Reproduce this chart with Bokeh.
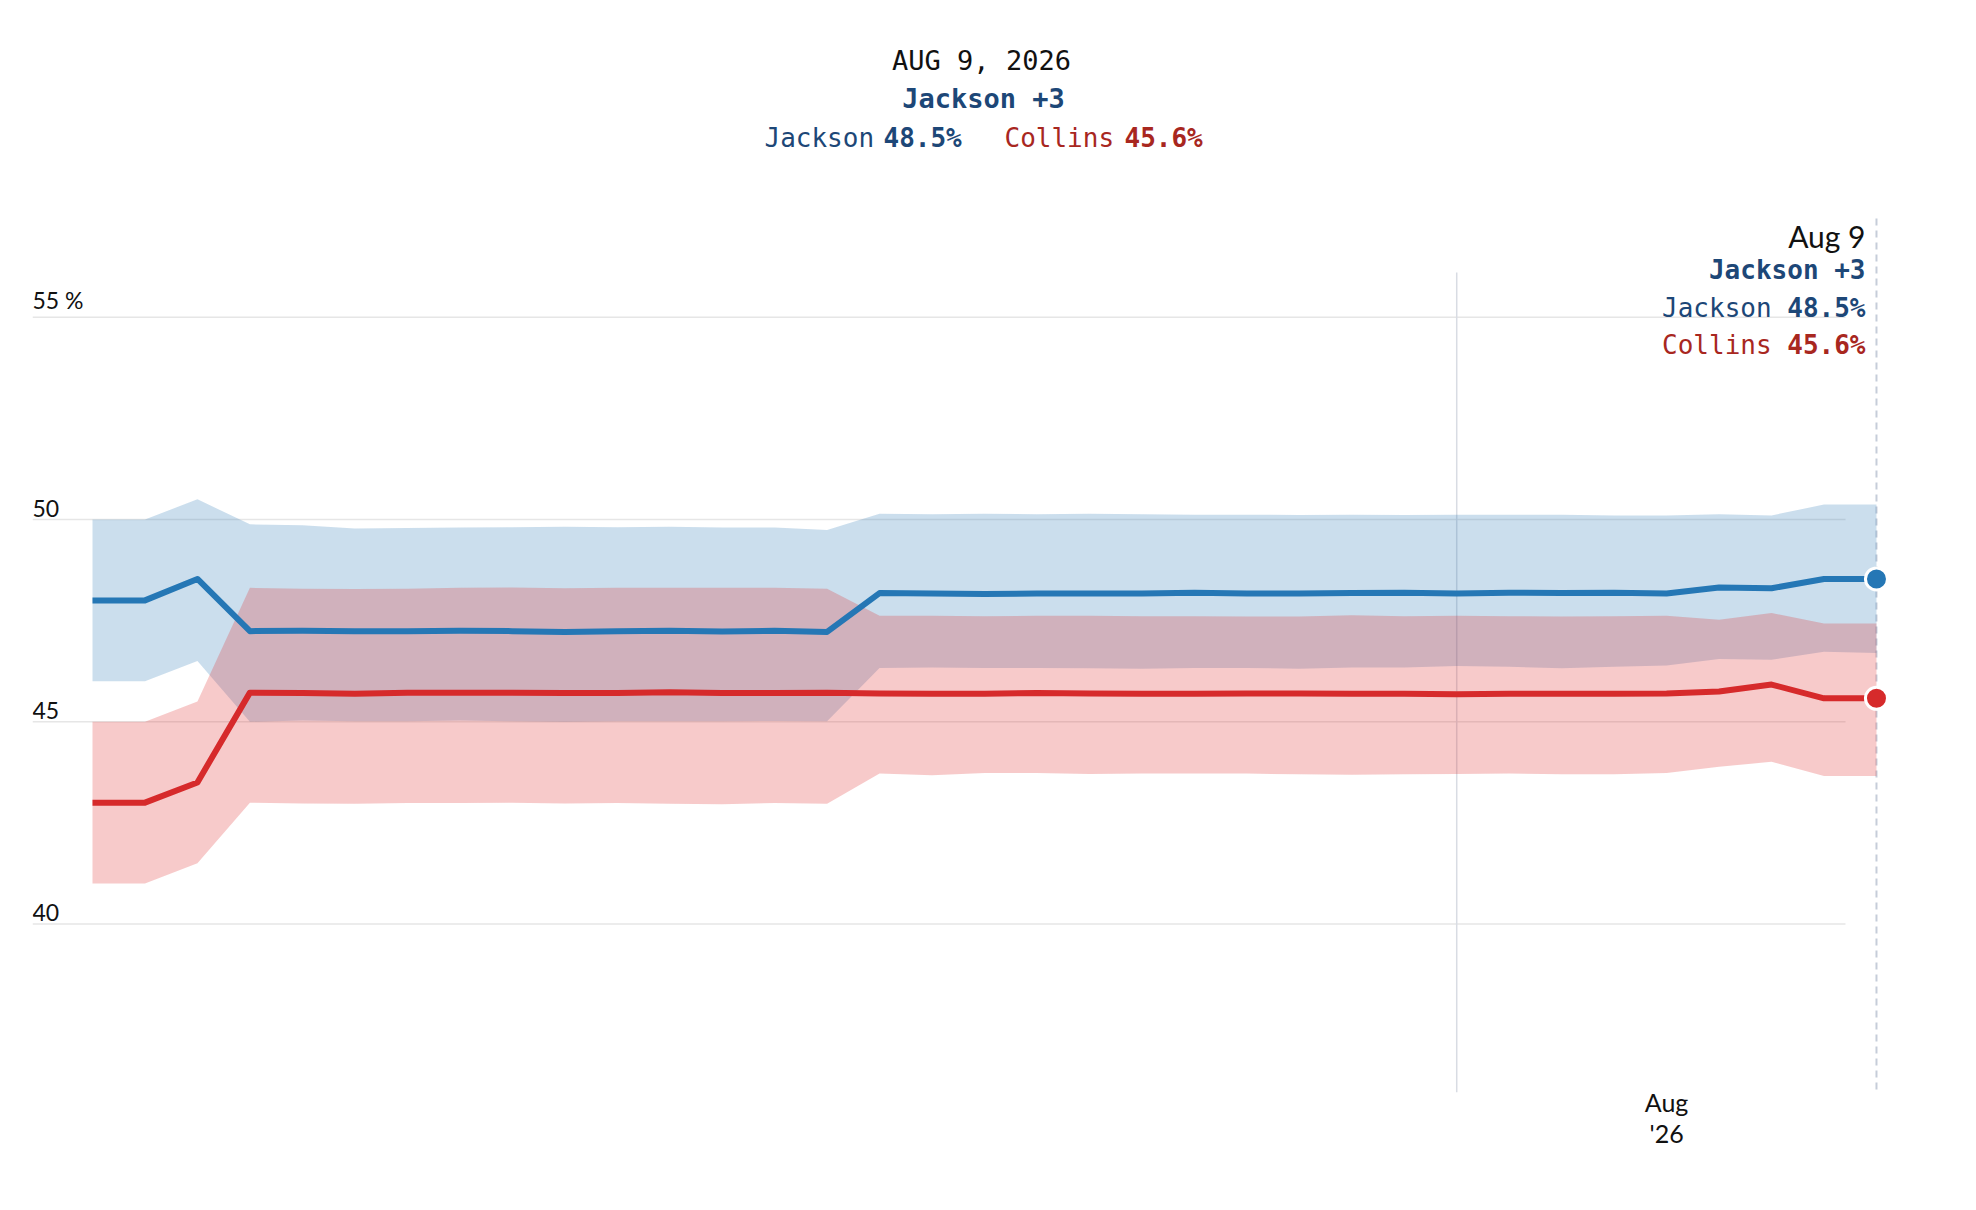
import pandas as pd
from bokeh.plotting import figure
from bokeh.models import Range1d, FixedTicker, DatetimeTickFormatter, Label, ColumnDataSource
from bokeh.core.properties import value
from bokeh.embed import file_html
from bokeh.resources import INLINE

# ---------------- data ----------------
start_date = "2026-06-02"
n_points = 35
dates = pd.date_range(start_date, periods=n_points, freq="2D")

jackson = [48.0, 48.0, 48.53, 47.24, 47.25, 47.24, 47.24, 47.25, 47.24, 47.22,
           47.24, 47.25, 47.23, 47.25, 47.22, 48.18, 48.17, 48.16, 48.17, 48.17,
           48.17, 48.19, 48.17, 48.17, 48.18, 48.19, 48.17, 48.19, 48.18, 48.19,
           48.17, 48.32, 48.30, 48.53, 48.53]
jackson_hi = [50.0, 50.0, 50.5, 49.88, 49.86, 49.78, 49.79, 49.80, 49.81, 49.82,
              49.81, 49.82, 49.80, 49.80, 49.74, 50.14, 50.13, 50.14, 50.13, 50.14,
              50.13, 50.12, 50.12, 50.11, 50.12, 50.11, 50.12, 50.12, 50.12, 50.10,
              50.10, 50.13, 50.10, 50.37, 50.37]
jackson_lo = [46.0, 46.0, 46.5, 45.0, 45.03, 45.01, 45.01, 45.03, 45.01, 45.0,
              45.01, 45.01, 45.01, 45.02, 45.01, 46.33, 46.34, 46.33, 46.33, 46.32,
              46.31, 46.33, 46.33, 46.31, 46.34, 46.34, 46.38, 46.36, 46.32, 46.36,
              46.39, 46.55, 46.53, 46.73, 46.70]
collins = [43.0, 43.0, 43.5, 45.72, 45.71, 45.69, 45.72, 45.72, 45.72, 45.71,
           45.71, 45.73, 45.71, 45.71, 45.72, 45.70, 45.69, 45.69, 45.71, 45.70,
           45.69, 45.69, 45.70, 45.70, 45.69, 45.69, 45.68, 45.69, 45.69, 45.69,
           45.70, 45.75, 45.92, 45.58, 45.58]
collins_hi = [45.0, 45.0, 45.5, 48.31, 48.29, 48.28, 48.29, 48.31, 48.32, 48.30,
              48.31, 48.31, 48.31, 48.31, 48.29, 47.62, 47.62, 47.61, 47.62, 47.62,
              47.61, 47.61, 47.60, 47.60, 47.63, 47.61, 47.62, 47.61, 47.60, 47.61,
              47.62, 47.52, 47.69, 47.43, 47.43]
collins_lo = [41.0, 41.0, 41.5, 43.0, 42.98, 42.97, 42.99, 42.99, 43.0, 42.98,
              42.99, 42.97, 42.96, 42.99, 42.97, 43.72, 43.68, 43.73, 43.73, 43.71,
              43.72, 43.72, 43.72, 43.70, 43.69, 43.70, 43.71, 43.72, 43.70, 43.70,
              43.73, 43.89, 44.01, 43.66, 43.66]

y_ticks = [40, 45, 50, 55]
y_tick_labels = ["40", "45", "50", "55 %"]
x_tick_date = "2026-08-01"
x_tick_label = "%b\n'%y"
marker_index = 26

title_date = "AUG 9, 2026"
lead_text = "Jackson +3"
cand_a, cand_a_val = "Jackson", "48.5%"
cand_b, cand_b_val = "Collins", "45.6%"
hover_date = "Aug 9"

# ---------------- styling / geometry ----------------
BLUE = "#2577b5"
RED = "#d62a2b"
BLUE_TXT = "#1d4777"
RED_TXT = "#a8271f"
MONO = "DejaVu Sans Mono"
SANS = "Lato"

FRAME_L, FRAME_R, FRAME_T, FRAME_B = 32, 1900, 8, 1092
X0_PX, PX_PER_DAY = 92, 26.235
Y50_PX, PX_PER_UNIT = 519, 40.45
DAY = 86400000.0

x0 = dates[0].value / 1e6
x_start = x0 - (X0_PX - FRAME_L) / PX_PER_DAY * DAY
x_end = x0 + (FRAME_R - X0_PX) / PX_PER_DAY * DAY
y_top = 50 + (Y50_PX - FRAME_T) / PX_PER_UNIT
y_bot = 50 - (FRAME_B - Y50_PX) / PX_PER_UNIT


def X(px):
    return x_start + (px - FRAME_L) / PX_PER_DAY * DAY


def Y(py):
    return y_top - (py - FRAME_T) / PX_PER_UNIT


p = figure(width=FRAME_R + 16, height=FRAME_B + 80,
           x_axis_type="datetime", y_axis_location=None,
           x_range=Range1d(x_start, x_end), y_range=Range1d(y_bot, y_top),
           min_border_left=FRAME_L, min_border_right=16, min_border_top=FRAME_T,
           min_border_bottom=80,
           output_backend="svg", toolbar_location=None, title=None)
p.outline_line_color = None
p.xgrid.visible = False
p.ygrid.visible = False

# x axis
p.xaxis.ticker = FixedTicker(ticks=[pd.Timestamp(x_tick_date).value / 1e6])
p.xaxis.formatter = DatetimeTickFormatter(
    milliseconds=x_tick_label, seconds=x_tick_label, minsec=x_tick_label, minutes=x_tick_label,
    hourmin=x_tick_label, hours=x_tick_label, days=x_tick_label, months=x_tick_label,
    years=x_tick_label)
p.xaxis.axis_line_color = None
p.xaxis.major_tick_line_color = None
p.xaxis.minor_tick_line_color = None
p.xaxis.major_tick_in = 0
p.xaxis.major_tick_out = 0
p.xaxis.major_label_standoff = -6
p.xaxis.major_label_text_font = SANS
p.xaxis.major_label_text_font_size = "25px"
p.xaxis.major_label_text_line_height = 1.05
p.xaxis.major_label_text_color = "#111111"

# gridlines (drawn under the bands)
grid_end = X(1845)
p.segment(x0=[x_start] * len(y_ticks), x1=[grid_end] * len(y_ticks), y0=y_ticks, y1=y_ticks,
          line_color="#e6e6e6", line_width=1.5)
p.text(x=[x_start] * len(y_ticks), y=y_ticks, text=y_tick_labels, text_baseline="bottom",
       text_align="left", y_offset=-3, text_font=value(SANS), text_font_size="23px",
       text_color="#111111")

# vertical reference lines
mx = dates[marker_index]
p.segment(x0=[mx], x1=[mx], y0=[Y(272)], y1=[y_bot], line_color="#d8dce3", line_width=1.5)
p.segment(x0=[dates[-1]], x1=[dates[-1]], y0=[Y(218)], y1=[y_bot], line_color="#c6cdd9",
          line_width=2, line_dash="7 5")

src = ColumnDataSource(dict(x=dates, j=jackson, jh=jackson_hi, jl=jackson_lo,
                            c=collins, ch=collins_hi, cl=collins_lo))

p.varea(x="x", y1="jl", y2="jh", source=src, fill_color=BLUE, fill_alpha=0.24)
p.varea(x="x", y1="cl", y2="ch", source=src, fill_color="#df2b2b", fill_alpha=0.25)
p.line(x="x", y="j", source=src, line_color=BLUE, line_width=6, line_join="round")
p.line(x="x", y="c", source=src, line_color=RED, line_width=6, line_join="round")
p.scatter(x=[dates[-1], dates[-1]], y=[jackson[-1], collins[-1]], size=22,
          fill_color=[BLUE, RED], line_color="white", line_width=3)


def lab(text, px, py, color, align="left", bold=False, font=MONO, size="26px"):
    p.add_layout(Label(x=X(px), y=Y(py), text=text, text_align=align, text_baseline="middle",
                       text_font=font, text_font_size=size, text_color=color,
                       text_font_style="bold" if bold else "normal"))


# header
lab(title_date, 981, 60, "#111111", align="center", size="27px")
lab(lead_text, 983, 98, BLUE_TXT, align="center", bold=True, size="27px")
lab(cand_a, 764, 137, BLUE_TXT)
lab(cand_a_val, 883, 137, BLUE_TXT, bold=True)
lab(cand_b, 1004, 137, RED_TXT)
lab(cand_b_val, 1124, 137, RED_TXT, bold=True)

# right-hand annotation
RX = 1865
CW = 15.65
lab(hover_date, RX, 235, "#111111", align="right", font=SANS, size="30px")
lab(lead_text, RX, 269, BLUE_TXT, align="right", bold=True)
lab(cand_a, RX - 6 * CW, 307, BLUE_TXT, align="right")
lab(cand_a_val, RX, 307, BLUE_TXT, align="right", bold=True)
lab(cand_b, RX - 6 * CW, 344, RED_TXT, align="right")
lab(cand_b_val, RX, 344, RED_TXT, align="right", bold=True)

open("out.html", "w").write(file_html(p, INLINE))
